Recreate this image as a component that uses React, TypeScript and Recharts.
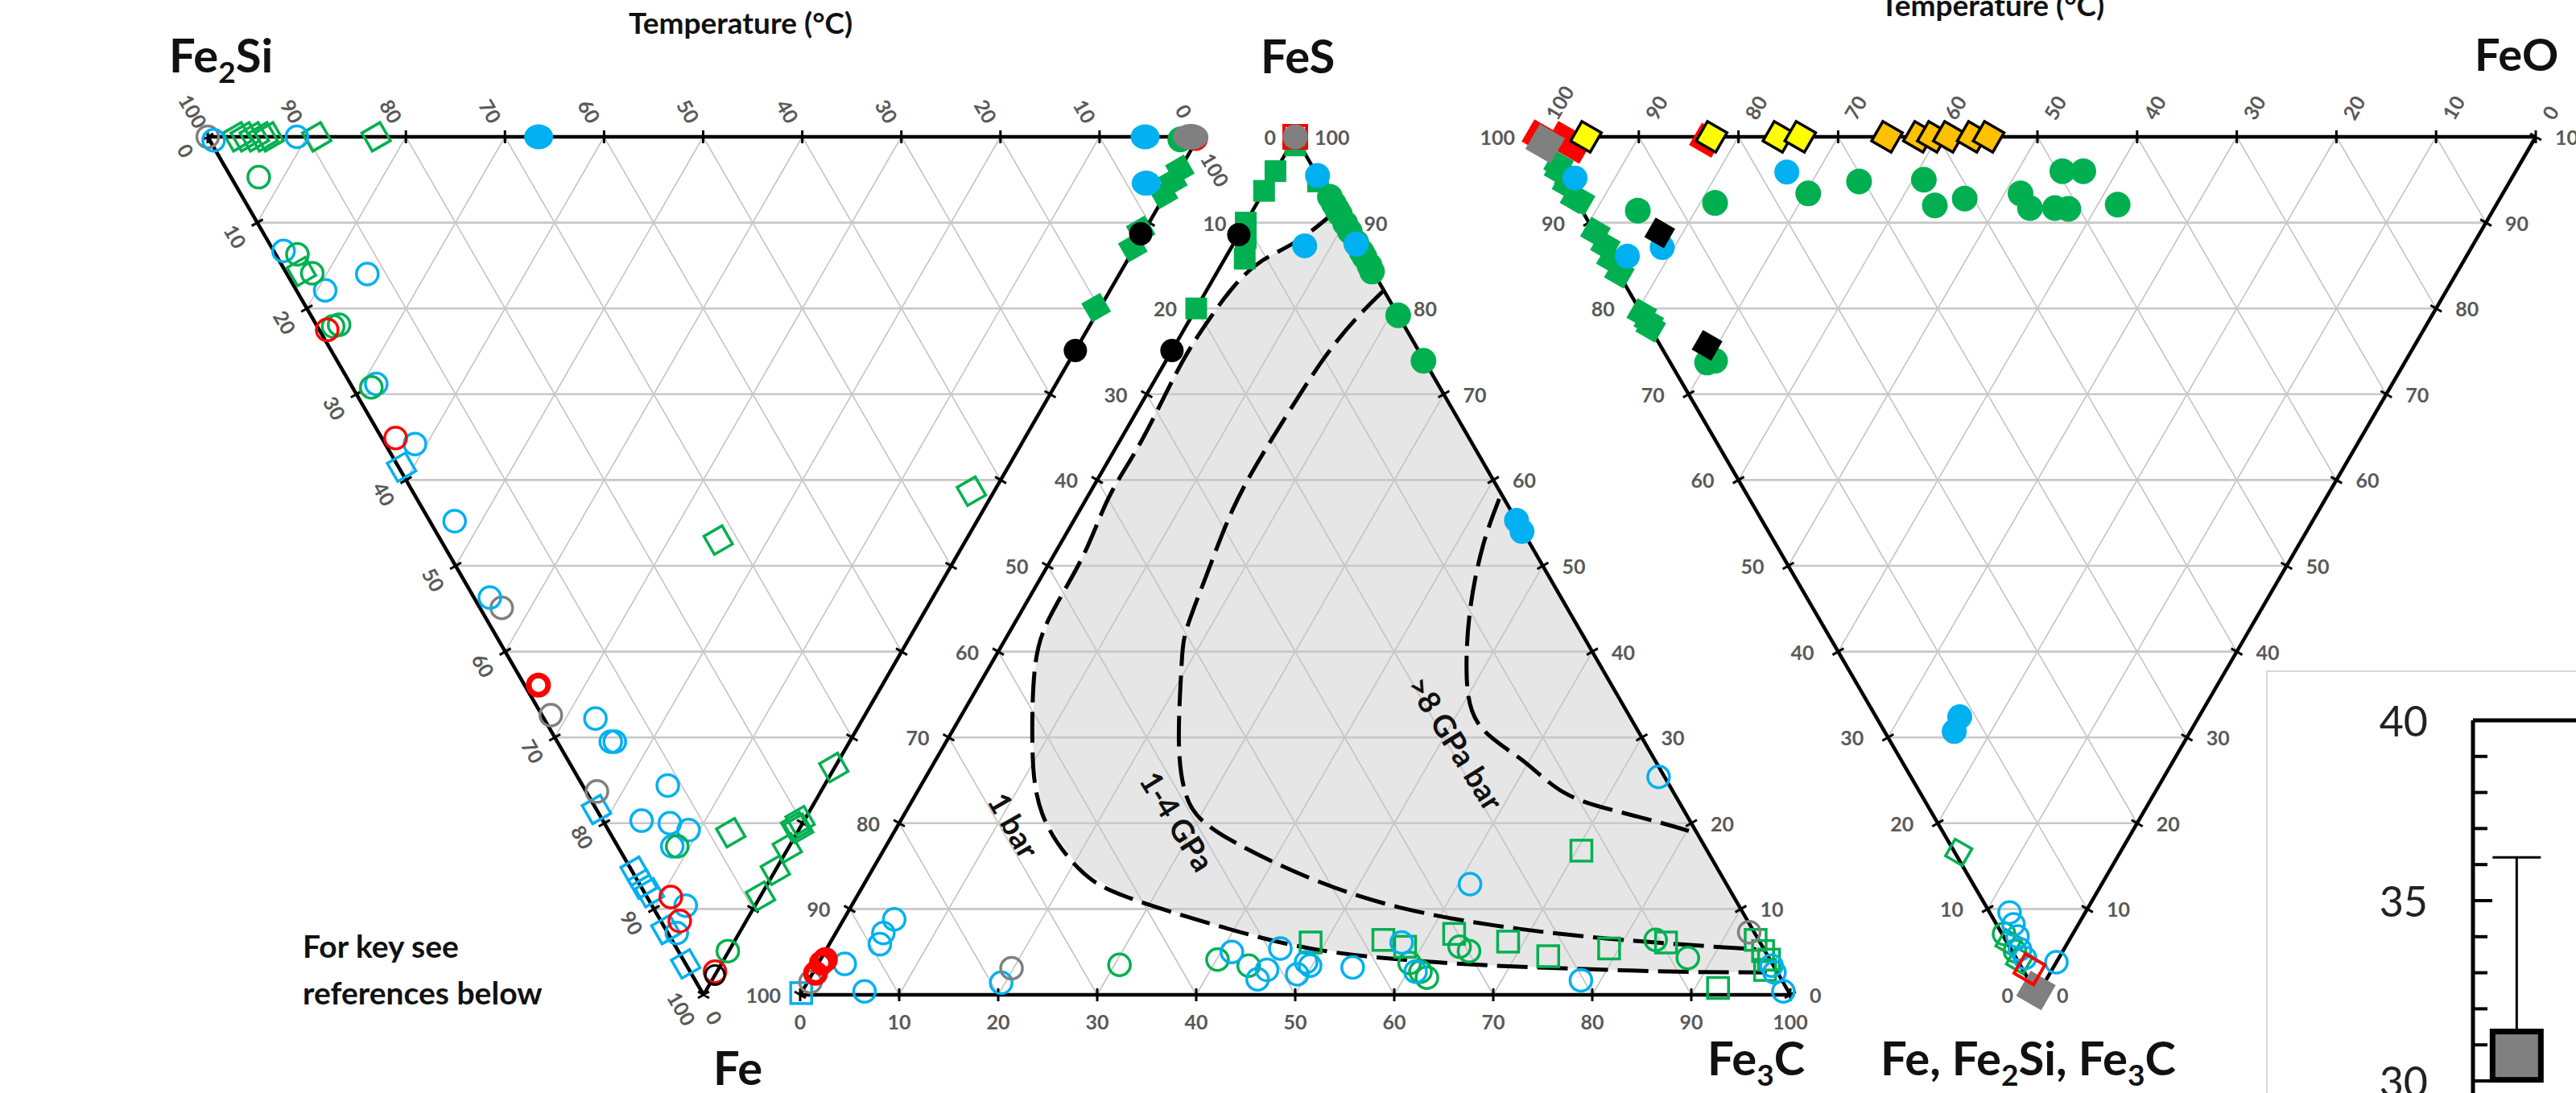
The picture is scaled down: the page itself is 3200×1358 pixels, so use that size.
import React from 'react';
import { ScatterChart, Scatter, XAxis, YAxis, ReferenceLine, ErrorBar } from 'recharts';

type Pair = [number, number];
type Pt = { x: number; y: number };

// ---------- left ternary Fe2Si - FeS - Fe, pairs are [FeS, Fe] (wt%) ----------
const leftGreenOpenCircle: Pair[] = [[2.8, 4.7], [2.2, 13.7], [2.6, 15.9], [2.3, 21.9], [1.6, 22.1], [1.9, 29.2], [6, 82.7], [5, 94.9]];
const leftBlueOpenCircle: Pair[] = [[0.4, 0.4], [9, 0], [1, 13.3], [8.1, 16], [2.9, 17.9], [2.6, 28.8], [3, 35.8], [2.5, 44.8], [1.6, 53.7], [5.2, 67.8], [5.4, 70.5], [5.8, 70.5], [8.6, 75.6], [3.9, 79.7], [6.6, 80], [8.1, 80.8], [5.5, 82.7], [3.4, 89.6], [0.9, 92.8]];
const leftRedOpenCircle: Pair[] = [[0.8, 22.5], [1.4, 35.1], [2.4, 88.6], [1.9, 91.4], [2.5, 97.3], [99.6, 0.2]];
const leftRedThickCircle: Pair[] = [[1.4, 63.9]];
const leftGrayOpenCircle: Pair[] = [[0, 0], [2.2, 54.9], [0.9, 67.4], [1.1, 76.3]];
const leftBlackOpenCircle: Pair[] = [[2.3, 97.7]];
const leftGreenOpenSquare: Pair[] = [[3, 0], [3.8, 0], [4.7, 0], [5.6, 0], [6.2, 0], [11, 0], [17, 0], [1.6, 15.7], [28, 47], [56.4, 41.3], [12.2, 81.1], [26.4, 73.5], [19.9, 79.7], [19.1, 80.4], [19.3, 80.6], [17, 82.9], [14.5, 85.5], [11.5, 88.5]];
const leftBlueOpenSquare: Pair[] = [[0.3, 38.5], [0, 78.4], [0.3, 85.6], [0.3, 87.1], [0.5, 88.1], [0, 92.4], [0, 96.4]];
const leftGreenDot: Pair[] = [[98, 0.3]];
const leftGreenBlock: Pair[] = [[96.2, 3.8], [94.8, 5.2], [93.1, 6.7], [88.7, 10.9], [86.9, 12.9], [79.7, 19.9]];
const leftBlueDot: Pair[] = [[33.4, 0], [94.6, 0], [92, 5.4]];
const leftBlackDot: Pair[] = [[88.5, 11.3], [75.1, 24.9]];
const leftGrayDot: Pair[] = [[99.2, 0]];

// ---------- middle ternary FeS - Fe - Fe3C, pairs are [FeS, Fe3C] ----------
const midGreenBlock: Pair[] = [[99, 0.5], [96, 0], [93.7, 0], [90, 0], [88.2, 0.9], [85.8, 2], [80, 0], [94.8, 4.9]];
const midRedOpenSquare: Pair[] = [[100, 0]];
const midGreenDot: Pair[] = [[93, 7], [92.2, 7.8], [91.5, 8.5], [91, 9], [89.9, 10.1], [89, 11], [87.7, 12.3], [86.6, 13.4], [86, 14], [85, 15], [84.3, 15.6], [79.2, 20.8], [73.9, 26]];
const midBlueDot: Pair[] = [[95.5, 4.5], [87.5, 12.4], [87.3, 7.3], [55.3, 44.7], [54, 45.9]];
const midBlackDot: Pair[] = [[88.6, 0], [75.1, 0]];
const midGrayDot: Pair[] = [[100, 0]];
const midBlueOpenSquare: Pair[] = [[0.2, 0]];
const midGrayOpenCircle: Pair[] = [[1.5, 0.3], [3.1, 19.8], [7.3, 92.2]];
const midRedThickCircle: Pair[] = [[2.5, 0.3], [3.7, 0.3], [4.1, 0.5]];
const midBlueOpenCircle: Pair[] = [[3.6, 2.7], [0.4, 6.3], [5.9, 5.1], [7.2, 4.8], [8.8, 5.1], [1.4, 19.6], [5, 41.1], [1.8, 45.3], [2.9, 45.7], [5.4, 45.8], [2.4, 49], [3.8, 49.2], [3.4, 49.8], [3.2, 54.2], [6.1, 57.7], [2.7, 60.8], [12.9, 61.2], [1.7, 78], [25.4, 74], [3.4, 96.4], [2.6, 97.1], [0.4, 99.1]];
const midGreenOpenCircle: Pair[] = [[3.5, 30.5], [4.1, 40.1], [3.4, 43.6], [3.7, 59.7], [2.7, 61.3], [2, 62.3], [5.6, 63.8], [5.1, 65], [6.4, 83.2], [4.3, 87.5]];
const midGreenOpenSquare: Pair[] = [[6.1, 48.5], [6.4, 55.7], [5.6, 58.3], [7.1, 62.5], [6.2, 68.4], [4.5, 73.3], [16.8, 70.5], [5.4, 79], [6.1, 84.4], [0.8, 92.3], [6.4, 93.3], [5.1, 94.7], [4.1, 95.8], [2.9, 96]];

// pressure boundaries in the middle ternary, [FeS, Fe3C]
const curve1bar: Pair[] = [[91.3, 8.4], [87.9, 6.3], [85.6, 3.9], [82.5, 2.5], [78.3, 1.9], [74.6, 1.7], [69.9, 1.9], [63.6, 2.2], [57.8, 2.2], [51.1, 3], [44, 3.2], [38, 4.7], [29.5, 8.7], [21.1, 13.9], [14.7, 20.8], [11.4, 27.3], [8, 38.3], [5.4, 48.8], [4.1, 58.8], [3.4, 68.4], [3, 77.8], [2.7, 87.3], [2.6, 96.3]];
const curve1to4GPa: Pair[] = [[82.1, 17.9], [78.7, 16.7], [74.1, 15.8], [68.3, 15.4], [62.9, 15.2], [56.6, 15.4], [49.4, 16.5], [42.7, 17.7], [38, 19.5], [29.5, 23.5], [23.2, 27.4], [18.9, 32.8], [13.6, 44.7], [10.1, 55.8], [8.1, 66], [6.8, 75.9], [5.9, 85.7], [5.3, 93.9]];
const curve8GPa: Pair[] = [[57.8, 41.7], [52.3, 42.8], [45.2, 45.1], [38, 48.3], [31.7, 52.6], [27.5, 59], [23.6, 65.3], [21.5, 71.4], [20.1, 76.7], [19.1, 80.2]];
const fillEdge: Pair[] = [[2.6, 97.4], [91.3, 8.7]];

// ---------- right ternary FeS - FeO - (Fe,Fe2Si,Fe3C), pairs are [FeO, Fe+Fe2Si+Fe3C] ----------
const rightRedBlock: Pair[] = [[0, 0], [2.3, 0.2], [3, 1.1], [16.6, 0.4]];
const rightGrayBlock: Pair[] = [[0.2, 0.8], [0.1, 99.5]];
const rightYellowDiamond: Pair[] = [[4.7, 0], [17.3, 0], [24, 0], [26.2, 0]];
const rightOrangeDiamond: Pair[] = [[34.9, 0], [38.1, 0], [39.5, 0], [41.1, 0], [43.5, 0], [45.1, 0]];
const rightGreenBlock: Pair[] = [[0.3, 3.3], [0, 4], [0.5, 5], [0, 5.6], [0, 7.2], [0.4, 7.4], [0.1, 11.1], [0.3, 12.7], [0.1, 14.3], [0.1, 15.9], [0, 20.6], [0.2, 21.6], [0.1, 22.2]];
const rightGreenDot: Pair[] = [[3.7, 26.3], [4.6, 26.1], [5.6, 8.6], [13.8, 7.7], [23.7, 6.6], [29.5, 5.2], [36.1, 5], [35.7, 8], [39.1, 7.2], [45, 6.6], [45.1, 8.3], [47.6, 8.3], [48.9, 8.4], [50.5, 4], [52.6, 4], [54.1, 7.9]];
const rightBlueDot: Pair[] = [[1.2, 4.8], [1.9, 13.9], [5.9, 12.9], [22.8, 4.1], [8.4, 67.6], [7, 69.3]];
const rightBlackBlock: Pair[] = [[6.5, 11.2], [4.7, 24.3]];
const rightGreenOpenSquare: Pair[] = [[0.4, 83.4], [0.2, 93.9], [0.2, 96]];
const rightGreenOpenCircle: Pair[] = [[0.2, 92.9], [0.3, 94.9]];
const rightBlueOpenCircle: Pair[] = [[2, 90.4], [1.7, 91.8], [1.4, 93.2], [0.9, 94.7], [0.9, 95.7], [3.8, 96.2]];
const rightRedOpenSquare: Pair[] = [[0.7, 97]];

// axis ticks (wt%)
const tickSteps = [0, 10, 20, 30, 40, 50, 60, 70, 80, 90, 100];
const gridSteps = [10, 20, 30, 40, 50, 60, 70, 80, 90];
const leftRightEdgeLabels = [100, 0];

// inset (cut-off panel on the right)
const insetTicks = [20, 21, 22, 23, 24, 25, 26, 27, 28, 29, 30, 31, 32, 33, 34, 35, 36, 37, 38, 39, 40];
const insetX = [1];
const insetY = [30.7];
const insetErr: Pair[] = [[0, 5.5]];

// ---------- layout ----------
const W = 3200;
const H = 1358;
const FONT = 'Lato, "Open Sans", sans-serif';
const GREEN = '#00B050';
const BLUE = '#00B0F0';
const RED = '#FF0000';
const GRAY = '#808080';
const BLACK = '#000000';
const YELLOW = '#FFFF00';
const ORANGE = '#FFC000';

const LC: Pt[] = [{ x: 258, y: 170 }, { x: 1489, y: 170 }, { x: 874, y: 1236 }];
const MC: Pt[] = [{ x: 1609, y: 170 }, { x: 994, y: 1236 }, { x: 2224, y: 1236 }];
const RC: Pt[] = [{ x: 1912, y: 170 }, { x: 3150, y: 170 }, { x: 2531, y: 1236 }];

function bary(c: Pt[], w0: number, w1: number, w2: number): Pt {
  return {
    x: (c[0].x * w0 + c[1].x * w1 + c[2].x * w2) / 100,
    y: (c[0].y * w0 + c[1].y * w1 + c[2].y * w2) / 100,
  };
}
const leftXY = ([s, f]: Pair) => bary(LC, 100 - s - f, s, f);
const midXY = ([s, k]: Pair) => bary(MC, s, 100 - s - k, k);
const rightXY = ([o, r]: Pair) => bary(RC, 100 - o - r, o, r);

function gridLines(c: Pt[], i: number): Pt[] {
  const j = (i + 1) % 3;
  const k = (i + 2) % 3;
  const out: Pt[] = [];
  gridSteps.forEach((v) => {
    const a = [0, 0, 0];
    const b = [0, 0, 0];
    a[i] = v; a[j] = 100 - v;
    b[i] = v; b[k] = 100 - v;
    out.push(bary(c, a[0], a[1], a[2]), bary(c, b[0], b[1], b[2]));
  });
  return out;
}

function edges(c: Pt[]): Pt[] {
  return [c[0], c[1], c[1], c[2], c[2], c[0]];
}

function edgeTicks(c: Pt[]): Pt[] {
  const out: Pt[] = [];
  [[0, 1], [1, 2], [2, 0]].forEach(([p, q]) => {
    const a = c[p];
    const b = c[q];
    const len = Math.hypot(b.x - a.x, b.y - a.y);
    const nx = -(b.y - a.y) / len;
    const ny = (b.x - a.x) / len;
    tickSteps.forEach((v) => {
      const x = a.x + ((b.x - a.x) * v) / 100;
      const y = a.y + ((b.y - a.y) * v) / 100;
      out.push({ x: x - nx * 8, y: y - ny * 8 }, { x: x + nx * 8, y: y + ny * 8 });
    });
  });
  return out;
}

const lab = (p: Pt, v: number, dx: number, dy: number, rot: number, anchor: string) => ({ ...p, label: String(v), dx, dy, rot, anchor });

const tickLabels = [
  ...tickSteps.map((v) => lab(bary(LC, v, 100 - v, 0), v, -18, -32, 60, 'middle')),
  ...tickSteps.map((v) => lab(bary(LC, 100 - v, 0, v), v, -27, 17, 60, 'middle')),
  ...leftRightEdgeLabels.map((v) => lab(bary(LC, 0, v, 100 - v), v, 10, 22, 60, 'start')),
  ...tickSteps.map((v) => lab(bary(MC, 100 - v, v, 0), v, -24, 0, 0, 'end')),
  ...tickSteps.map((v) => lab(bary(MC, v, 0, 100 - v), v, 24, 0, 0, 'start')),
  ...tickSteps.map((v) => lab(bary(MC, 0, 100 - v, v), v, 0, 33, 0, 'middle')),
  ...tickSteps.map((v) => lab(bary(RC, v, 100 - v, 0), v, 14, -24, -60, 'start')),
  ...tickSteps.map((v) => lab(bary(RC, v, 0, 100 - v), v, -30, 0, 0, 'end')),
  ...tickSteps.map((v) => lab(bary(RC, 0, v, 100 - v), v, 24, 0, 0, 'start')),
];

// ---------- shapes ----------
const noShape = () => <g />;

const segLine = (stroke: string, width: number) => (props: any) => {
  const pts = props.points || [];
  let d = '';
  for (let i = 0; i + 1 < pts.length; i += 2) {
    d += `M${pts[i].x},${pts[i].y}L${pts[i + 1].x},${pts[i + 1].y}`;
  }
  return <path d={d} stroke={stroke} strokeWidth={width} fill="none" />;
};

const ring = (color: string, sw = 3.5, r = 13.5) => (p: any) => (
  <circle cx={p.cx} cy={p.cy} r={r} fill="none" stroke={color} strokeWidth={sw} />
);
const dot = (color: string, r = 15.5, rx?: number) => (p: any) => (
  <ellipse cx={p.cx} cy={p.cy} rx={rx ?? r} ry={r} fill={color} />
);
const box = (fill: string, stroke: string, size: number, sw: number, rot = 0) => (p: any) => (
  <rect
    x={p.cx - size / 2}
    y={p.cy - size / 2}
    width={size}
    height={size}
    fill={fill}
    stroke={stroke}
    strokeWidth={sw}
    transform={rot ? `rotate(${rot} ${p.cx} ${p.cy})` : undefined}
  />
);

const labelShape = (p: any) => {
  const d = p.payload;
  const x = p.cx + d.dx;
  const y = p.cy + d.dy;
  return (
    <text
      x={x}
      y={y}
      textAnchor={d.anchor}
      dominantBaseline="central"
      transform={d.rot ? `rotate(${d.rot} ${x} ${y})` : undefined}
      fill="#595959"
      fontSize={25}
      fontWeight={700}
      fontFamily={FONT}
    >
      {d.label}
    </text>
  );
};

const series = [
  // left
  { data: leftGreenOpenSquare.map(leftXY), shape: box('none', GREEN, 26, 3.5, 60) },
  { data: leftBlueOpenSquare.map(leftXY), shape: box('none', BLUE, 26, 3.5, 60) },
  { data: leftGrayOpenCircle.map(leftXY), shape: ring(GRAY) },
  { data: leftBlueOpenCircle.map(leftXY), shape: ring(BLUE) },
  { data: leftGreenOpenCircle.map(leftXY), shape: ring(GREEN) },
  { data: leftRedOpenCircle.map(leftXY), shape: ring(RED) },
  { data: leftRedThickCircle.map(leftXY), shape: ring(RED, 7, 12) },
  { data: leftBlackOpenCircle.map(leftXY), shape: ring(BLACK, 3, 12) },
  { data: leftGreenDot.map(leftXY), shape: dot(GREEN, 16) },
  { data: leftGreenBlock.map(leftXY), shape: box(GREEN, 'none', 27, 0, 60) },
  { data: leftBlueDot.map(leftXY), shape: dot(BLUE, 15.5, 18) },
  { data: leftBlackDot.map(leftXY), shape: dot(BLACK, 14.5) },
  { data: leftGrayDot.map(leftXY), shape: dot(GRAY, 16, 22) },
  // middle
  { data: midGreenOpenSquare.map(midXY), shape: box('none', GREEN, 26, 3.5) },
  { data: midBlueOpenSquare.map(midXY), shape: box('none', BLUE, 26, 3.5) },
  { data: midGreenOpenCircle.map(midXY), shape: ring(GREEN) },
  { data: midBlueOpenCircle.map(midXY), shape: ring(BLUE) },
  { data: midGrayOpenCircle.map(midXY), shape: ring(GRAY) },
  { data: midRedThickCircle.map(midXY), shape: ring(RED, 7, 12) },
  { data: midGreenBlock.map(midXY), shape: box(GREEN, 'none', 27, 0) },
  { data: midRedOpenSquare.map(midXY), shape: box('none', RED, 28, 4) },
  { data: midGreenDot.map(midXY), shape: dot(GREEN, 16) },
  { data: midBlueDot.map(midXY), shape: dot(BLUE) },
  { data: midBlackDot.map(midXY), shape: dot(BLACK, 14.5) },
  { data: midGrayDot.map(midXY), shape: dot(GRAY, 15.5) },
  // right
  { data: rightRedBlock.map(rightXY), shape: box(RED, 'none', 32, 0, 30) },
  { data: rightGreenBlock.map(rightXY), shape: box(GREEN, 'none', 28, 0, 30) },
  { data: rightGrayBlock.map(rightXY), shape: box(GRAY, 'none', 36, 0, 30) },
  { data: rightYellowDiamond.map(rightXY), shape: box(YELLOW, BLACK, 28, 3.5, 30) },
  { data: rightOrangeDiamond.map(rightXY), shape: box(ORANGE, BLACK, 28, 3.5, 30) },
  { data: rightGreenDot.map(rightXY), shape: dot(GREEN, 16) },
  { data: rightBlueDot.map(rightXY), shape: dot(BLUE) },
  { data: rightBlackBlock.map(rightXY), shape: box(BLACK, 'none', 28, 0, 30) },
  { data: rightGreenOpenSquare.map(rightXY), shape: box('none', GREEN, 24, 3.5, 30) },
  { data: rightGreenOpenCircle.map(rightXY), shape: ring(GREEN) },
  { data: rightBlueOpenCircle.map(rightXY), shape: ring(BLUE) },
  { data: rightRedOpenSquare.map(rightXY), shape: box('none', RED, 28, 4, 30) },
];

const dashed = { stroke: BLACK, strokeWidth: 5, strokeDasharray: '38 12', fill: 'none' };

function InsetTick(props: any) {
  const { x, y, payload } = props;
  const major = payload.value % 5 === 0;
  return (
    <g>
      <line x1={x} x2={x + (major ? 24 : 18)} y1={y} y2={y} stroke={BLACK} strokeWidth={4} />
      {major && (
        <text x={x - 56} y={y} textAnchor="end" dominantBaseline="central" fontSize={52} fontFamily={FONT} fill="#222">
          {payload.value}
        </text>
      )}
    </g>
  );
}

function Inset() {
  const data = insetX.map((x, i) => ({ x, y: insetY[i], err: insetErr[i] }));
  return (
    <div
      style={{
        position: 'absolute',
        left: 2815,
        top: 833,
        width: 700,
        height: 1000,
        borderLeft: '2px solid #d9d9d9',
        borderTop: '2px solid #d9d9d9',
        background: '#fff',
      }}
    >
      <ScatterChart width={581} height={1000} margin={{ top: 60, right: 0, bottom: 44, left: 0 }}>
        <XAxis type="number" dataKey="x" domain={[0, 6]} hide />
        <YAxis
          type="number"
          dataKey="y"
          domain={[20, 40]}
          ticks={insetTicks}
          interval={0}
          width={255}
          tickSize={0}
          tickMargin={0}
          tickLine={false}
          axisLine={{ stroke: BLACK, strokeWidth: 5 }}
          tick={(p: any) => <InsetTick {...p} />}
        />
        <ReferenceLine y={40} stroke={BLACK} strokeWidth={5} />
        <Scatter data={data} shape={box(GRAY, BLACK, 60, 7)} isAnimationActive={false}>
          <ErrorBar dataKey="err" direction="y" width={30} stroke={BLACK} strokeWidth={3} />
        </Scatter>
      </ScatterChart>
    </div>
  );
}

// chemical formula: segments alternate between normal text and subscripts
function Chem({ x, y, parts, size = 58 }: { x: number; y: number; parts: { t: string; sub?: boolean }[]; size?: number }) {
  const off = Math.round(size * 0.22);
  let lowered = false;
  return (
    <text x={x} y={y} fontSize={size} fontWeight={700} fontFamily={FONT} fill="#111">
      {parts.map((p, i) => {
        let dy = 0;
        if (p.sub && !lowered) { dy = off; lowered = true; }
        else if (!p.sub && lowered) { dy = -off; lowered = false; }
        return (
          <tspan key={i} dy={dy} fontSize={p.sub ? size * 0.64 : size}>{p.t}</tspan>
        );
      })}
    </text>
  );
}

export default function App() {
  const fillPoly = [...curve1bar, ...fillEdge].map(midXY);
  const textStyle = { fontWeight: 700, fontFamily: FONT, fill: '#111' } as const;
  return (
    <div style={{ position: 'absolute', left: 0, top: 0, width: W, height: H, overflow: 'hidden', background: '#fff', fontFamily: FONT }}>
      <ScatterChart width={W} height={H} margin={{ top: 0, right: 0, bottom: 0, left: 0 }}>
        <XAxis type="number" dataKey="x" domain={[0, W]} allowDataOverflow hide />
        <YAxis type="number" dataKey="y" domain={[0, H]} allowDataOverflow reversed hide />

        <Scatter data={fillPoly} shape={noShape} line={{ fill: '#E6E6E6', stroke: 'none' }} lineJointType="linearClosed" isAnimationActive={false} />

        <Scatter data={[...gridLines(LC, 0), ...gridLines(LC, 1)]} shape={noShape} line={segLine('#C4C4C4', 1.6)} isAnimationActive={false} />
        <Scatter data={gridLines(LC, 2)} shape={noShape} line={segLine('#C8C8C8', 2.6)} isAnimationActive={false} />
        <Scatter data={[...gridLines(MC, 1), ...gridLines(MC, 2)]} shape={noShape} line={segLine('#C4C4C4', 1.6)} isAnimationActive={false} />
        <Scatter data={gridLines(MC, 0)} shape={noShape} line={segLine('#C8C8C8', 2.6)} isAnimationActive={false} />
        <Scatter data={[...gridLines(RC, 0), ...gridLines(RC, 1)]} shape={noShape} line={segLine('#C4C4C4', 1.6)} isAnimationActive={false} />
        <Scatter data={gridLines(RC, 2)} shape={noShape} line={segLine('#C8C8C8', 2.6)} isAnimationActive={false} />

        <Scatter data={[...edges(LC), ...edges(MC), ...edges(RC)]} shape={noShape} line={segLine(BLACK, 4.5)} isAnimationActive={false} />
        <Scatter data={[...edgeTicks(LC), ...edgeTicks(MC), ...edgeTicks(RC)]} shape={noShape} line={segLine(BLACK, 3)} isAnimationActive={false} />

        <Scatter data={curve1bar.map(midXY)} shape={noShape} line={dashed} lineJointType="natural" isAnimationActive={false} />
        <Scatter data={curve1to4GPa.map(midXY)} shape={noShape} line={dashed} lineJointType="natural" isAnimationActive={false} />
        <Scatter data={curve8GPa.map(midXY)} shape={noShape} line={dashed} lineJointType="natural" isAnimationActive={false} />

        {series.map((s, i) => (
          <Scatter key={`s-${i}`} data={s.data} shape={s.shape} isAnimationActive={false} />
        ))}

        <Scatter data={tickLabels} shape={labelShape} isAnimationActive={false} />
      </ScatterChart>

      <Inset />

      <svg width={W} height={H} style={{ position: 'absolute', left: 0, top: 0, pointerEvents: 'none' }}>
        <Chem x={210} y={90} parts={[{ t: 'Fe' }, { t: '2', sub: true }, { t: 'Si' }]} />
        <Chem x={1566} y={91} parts={[{ t: 'FeS' }]} />
        <Chem x={3074} y={88} size={56} parts={[{ t: 'FeO' }]} />
        <Chem x={886} y={1348} parts={[{ t: 'Fe' }]} />
        <Chem x={2121} y={1336} parts={[{ t: 'Fe' }, { t: '3', sub: true }, { t: 'C' }]} />
        <Chem x={2336} y={1336} parts={[{ t: 'Fe, Fe' }, { t: '2', sub: true }, { t: 'Si, Fe' }, { t: '3', sub: true }, { t: 'C' }]} />
        <text x={781} y={42} fontSize={37} {...textStyle}>Temperature (°C)</text>
        <text x={2336} y={20} fontSize={37} {...textStyle}>Temperature (°C)</text>
        <text x={376} y={1190} fontSize={39} {...textStyle}>For key see</text>
        <text x={376} y={1248} fontSize={39} {...textStyle}>references below</text>
        <text transform="translate(1260,1025) rotate(60)" textAnchor="middle" dominantBaseline="central" fontSize={38} {...textStyle}>1 bar</text>
        <text transform="translate(1463,1020) rotate(58)" textAnchor="middle" dominantBaseline="central" fontSize={38} {...textStyle}>1-4 GPa</text>
        <text transform="translate(1809,923) rotate(58)" textAnchor="middle" dominantBaseline="central" fontSize={38} {...textStyle}>&gt;8 GPa bar</text>
      </svg>
    </div>
  );
}
